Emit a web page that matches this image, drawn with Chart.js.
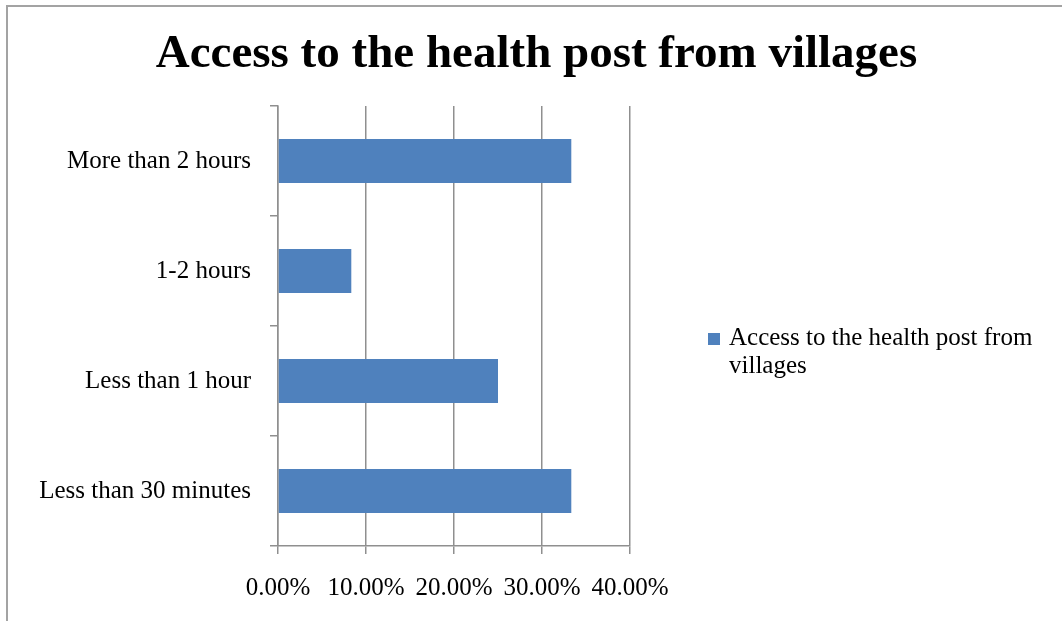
<!DOCTYPE html>
<html>
<head>
<meta charset="utf-8">
<script src="https://cdn.jsdelivr.net/npm/chart.js@4.4.1/dist/chart.umd.min.js"></script>
<style>
  html, body { margin: 0; padding: 0; background: #ffffff; }
  #wrap { position: relative; width: 1062px; height: 621px; overflow: hidden; }
  #frame { position: absolute; left: 6px; top: 5px; width: 1100px; height: 700px;
           border-left: 2px solid #a3a3a3; border-top: 2px solid #a3a3a3; pointer-events: none; }
  #legend { position: absolute; left: 708px; top: 323px; font-family: 'Liberation Serif', 'Times New Roman', serif;
            font-size: 25px; line-height: 28px; color: #000; }
  #legend .sw { position: absolute; left: 0; top: 10px; width: 12px; height: 12px; background: #4F81BD; }
  #legend .tx { position: absolute; left: 21px; top: 0; white-space: nowrap; }
</style>
</head>
<body>
<div id="wrap">
  <canvas id="c" width="1062" height="621"></canvas>
  <div id="frame"></div>
  <div id="legend"><div class="sw"></div><div class="tx">Access to the health post from<br>villages</div></div>
</div>
<script>
const titleText = "Access to the health post from villages";
const seriesName = "Access to the health post from villages";
const categories = ["More than 2 hours", "1-2 hours", "Less than 1 hour", "Less than 30 minutes"];
const values = [33.33, 8.33, 25.00, 33.33];
const xTicks = [0, 10, 20, 30, 40];

const FONT = "'Liberation Serif', 'Times New Roman', serif";
const gridColor = "#8f8f8f";

new Chart(document.getElementById('c'), {
  type: 'bar',
  data: {
    labels: categories,
    datasets: [{
      label: seriesName,
      data: values,
      backgroundColor: '#4F81BD',
      borderWidth: 0,
      barPercentage: 0.4,
      categoryPercentage: 1.0,
      yAxisID: 'y'
    }]
  },
  options: {
    indexAxis: 'y',
    responsive: false,
    animation: false,
    devicePixelRatio: 1,
    layout: { padding: { left: 11, right: 0, top: 0, bottom: 0 } },
    plugins: {
      legend: { display: false },
      tooltip: { enabled: false },
      title: {
        display: true,
        text: titleText,
        color: '#000',
        font: { family: FONT, size: 47, weight: 'bold', lineHeight: 1.2 },
        padding: { top: 26.5, bottom: 23.1 }
      }
    },
    scales: {
      x: {
        type: 'linear',
        min: 0, max: 40,
        afterBuildTicks: (s) => { s.ticks = xTicks.map(v => ({ value: v })); },
        afterFit: (s) => { s.height = 75; },
        ticks: {
          color: '#000',
          font: { family: FONT, size: 25 },
          padding: 19,
          callback: (v) => Number(v).toFixed(2) + '%'
        },
        grid: { color: gridColor, lineWidth: 1.5, tickLength: 8, drawTicks: true },
        border: { display: true, color: gridColor, width: 1.5 }
      },
      y: {
        type: 'category',
        position: 'left',
        afterFit: (s) => { s.width = 267; },
        ticks: {
          color: '#000',
          font: { family: FONT, size: 25 },
          padding: 19
        },
        grid: { offset: true, drawOnChartArea: false, drawTicks: true, tickLength: 8, color: gridColor, lineWidth: 1.5 },
        border: { display: true, color: gridColor, width: 1.5 }
      },
      yRight: {
        type: 'category',
        position: 'right',
        labels: categories,
        display: true,
        afterFit: (s) => { s.width = 432; },
        ticks: { display: false },
        grid: { display: false, drawTicks: false },
        border: { display: false }
      }
    }
  }
});
</script>
</body>
</html>
